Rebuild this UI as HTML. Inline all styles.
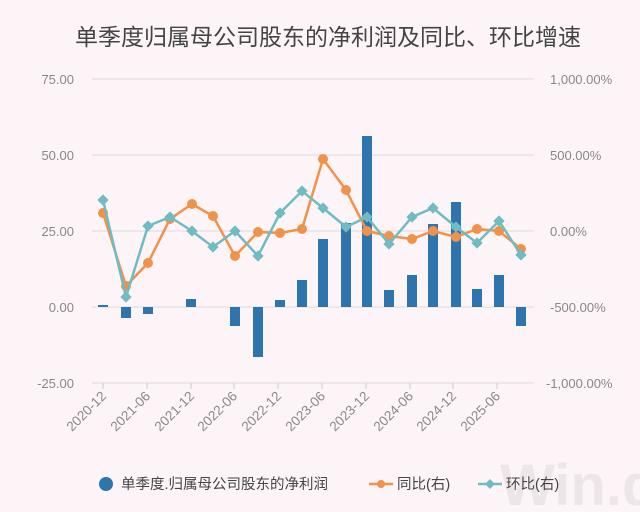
<!DOCTYPE html>
<html><head><meta charset="utf-8"><style>
html,body{margin:0;padding:0;background:#fdf4f8;}
svg{display:block;font-family:"Liberation Sans","Noto Sans CJK SC",sans-serif;}
</style></head><body>
<svg width="640" height="512" viewBox="0 0 640 512">
<rect width="640" height="512" fill="#fdf4f8"/>
<text x="328" y="45" text-anchor="middle" font-size="23" fill="#444">单季度归属母公司股东的净利润及同比、环比增速</text>
<g stroke="#ddd8dc" stroke-width="1">
<line x1="92" y1="79" x2="534" y2="79"/><line x1="92" y1="155" x2="534" y2="155"/>
<line x1="92" y1="231" x2="534" y2="231"/><line x1="92" y1="307" x2="534" y2="307"/>
<line x1="92" y1="383" x2="534" y2="383"/>
</g>
<g font-size="13" fill="#888" text-anchor="end">
<text x="74" y="84">75.00</text><text x="74" y="160">50.00</text><text x="74" y="236">25.00</text><text x="74" y="312">0.00</text><text x="74" y="388">-25.00</text>
</g>
<g font-size="13" fill="#888" text-anchor="start">
<text x="550" y="84">1,000.00%</text><text x="550" y="160">500.00%</text><text x="550" y="236">0.00%</text><text x="550" y="312">-500.00%</text><text x="546" y="388">-1,000.00%</text>
</g>
<g stroke="#ccc" stroke-width="1">
<line x1="103" y1="383" x2="103" y2="389"/><line x1="147" y1="383" x2="147" y2="389"/><line x1="191" y1="383" x2="191" y2="389"/><line x1="234" y1="383" x2="234" y2="389"/><line x1="278" y1="383" x2="278" y2="389"/><line x1="322" y1="383" x2="322" y2="389"/><line x1="366" y1="383" x2="366" y2="389"/><line x1="410" y1="383" x2="410" y2="389"/><line x1="453" y1="383" x2="453" y2="389"/><line x1="497" y1="383" x2="497" y2="389"/>
</g>
<g font-size="13.5" fill="#888" text-anchor="end">
<text transform="translate(107,397) rotate(-45)">2020-12</text>
<text transform="translate(151,397) rotate(-45)">2021-06</text>
<text transform="translate(195,397) rotate(-45)">2021-12</text>
<text transform="translate(238,397) rotate(-45)">2022-06</text>
<text transform="translate(282,397) rotate(-45)">2022-12</text>
<text transform="translate(326,397) rotate(-45)">2023-06</text>
<text transform="translate(370,397) rotate(-45)">2023-12</text>
<text transform="translate(414,397) rotate(-45)">2024-06</text>
<text transform="translate(457,397) rotate(-45)">2024-12</text>
<text transform="translate(501,397) rotate(-45)">2025-06</text>
</g>
<g fill="#2e75ad">
<rect x="98" y="305" width="10" height="2"/>
<rect x="121" y="307" width="10" height="11"/>
<rect x="143" y="307" width="10" height="7"/>
<rect x="186" y="299" width="10" height="8"/>
<rect x="230" y="307" width="10" height="19"/>
<rect x="253" y="307" width="10" height="50"/>
<rect x="275" y="300" width="10" height="7"/>
<rect x="297" y="280" width="10" height="27"/>
<rect x="318" y="239" width="10" height="68"/>
<rect x="341" y="223" width="10" height="84"/>
<rect x="362" y="136" width="10" height="171"/>
<rect x="384" y="290" width="10" height="17"/>
<rect x="407" y="275" width="10" height="32"/>
<rect x="428" y="224" width="10" height="83"/>
<rect x="451" y="202" width="10" height="105"/>
<rect x="472" y="289" width="10" height="18"/>
<rect x="494" y="275" width="10" height="32"/>
<rect x="516" y="307" width="10" height="19"/>
</g>
<polyline fill="none" stroke="#f0924a" stroke-width="2.5" points="103,213 126,286 148,263 170,219 192,204 213,216 235,256 258,232 280,233 302,229 323,159 346,190 367,231 389,236 412,239 433,231 456,237 477,229 499,231 521,249"/>
<g fill="#f0924a">
<circle cx="103" cy="213" r="5"/><circle cx="126" cy="286" r="5"/><circle cx="148" cy="263" r="5"/><circle cx="170" cy="219" r="5"/><circle cx="192" cy="204" r="5"/><circle cx="213" cy="216" r="5"/><circle cx="235" cy="256" r="5"/><circle cx="258" cy="232" r="5"/><circle cx="280" cy="233" r="5"/><circle cx="302" cy="229" r="5"/><circle cx="323" cy="159" r="5"/><circle cx="346" cy="190" r="5"/><circle cx="367" cy="231" r="5"/><circle cx="389" cy="236" r="5"/><circle cx="412" cy="239" r="5"/><circle cx="433" cy="231" r="5"/><circle cx="456" cy="237" r="5"/><circle cx="477" cy="229" r="5"/><circle cx="499" cy="231" r="5"/><circle cx="521" cy="249" r="5"/>
</g>
<polyline fill="none" stroke="#6fbcc2" stroke-width="2.5" points="103,200 126,297 148,226 170,217 192,231 213,247 235,231 258,256 280,213 302,191 323,208 346,227 367,217 389,244 412,217 433,208 456,227 477,243 499,221 521,255"/>
<g fill="#6fbcc2">
<rect x="-4" y="-4" width="8" height="8" transform="translate(103,200) rotate(45)"/>
<rect x="-4" y="-4" width="8" height="8" transform="translate(126,297) rotate(45)"/>
<rect x="-4" y="-4" width="8" height="8" transform="translate(148,226) rotate(45)"/>
<rect x="-4" y="-4" width="8" height="8" transform="translate(170,217) rotate(45)"/>
<rect x="-4" y="-4" width="8" height="8" transform="translate(192,231) rotate(45)"/>
<rect x="-4" y="-4" width="8" height="8" transform="translate(213,247) rotate(45)"/>
<rect x="-4" y="-4" width="8" height="8" transform="translate(235,231) rotate(45)"/>
<rect x="-4" y="-4" width="8" height="8" transform="translate(258,256) rotate(45)"/>
<rect x="-4" y="-4" width="8" height="8" transform="translate(280,213) rotate(45)"/>
<rect x="-4" y="-4" width="8" height="8" transform="translate(302,191) rotate(45)"/>
<rect x="-4" y="-4" width="8" height="8" transform="translate(323,208) rotate(45)"/>
<rect x="-4" y="-4" width="8" height="8" transform="translate(346,227) rotate(45)"/>
<rect x="-4" y="-4" width="8" height="8" transform="translate(367,217) rotate(45)"/>
<rect x="-4" y="-4" width="8" height="8" transform="translate(389,244) rotate(45)"/>
<rect x="-4" y="-4" width="8" height="8" transform="translate(412,217) rotate(45)"/>
<rect x="-4" y="-4" width="8" height="8" transform="translate(433,208) rotate(45)"/>
<rect x="-4" y="-4" width="8" height="8" transform="translate(456,227) rotate(45)"/>
<rect x="-4" y="-4" width="8" height="8" transform="translate(477,243) rotate(45)"/>
<rect x="-4" y="-4" width="8" height="8" transform="translate(499,221) rotate(45)"/>
<rect x="-4" y="-4" width="8" height="8" transform="translate(521,255) rotate(45)"/>
</g>
<text x="500" y="505" font-size="58" font-weight="bold" fill="#ece6e9">Win.d</text>
<circle cx="106" cy="484" r="7" fill="#2e75ad"/>
<text x="121" y="489" font-size="14.5" fill="#444">单季度.归属母公司股东的净利润</text>
<line x1="369" y1="484" x2="393" y2="484" stroke="#f0924a" stroke-width="2.5"/><circle cx="381" cy="484" r="4" fill="#f0924a"/>
<text x="397" y="489" font-size="14.5" fill="#444">同比(右)</text>
<line x1="478" y1="484" x2="502" y2="484" stroke="#6fbcc2" stroke-width="2.5"/><rect x="-3.5" y="-3.5" width="7" height="7" fill="#6fbcc2" transform="translate(490,484) rotate(45)"/>
<text x="506" y="489" font-size="14.5" fill="#444">环比(右)</text>
</svg>
</body></html>
